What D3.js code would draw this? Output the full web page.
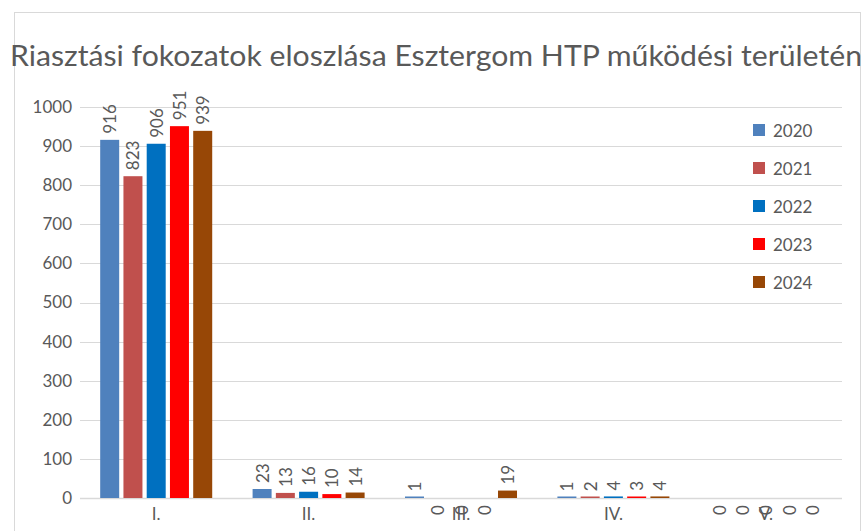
<!DOCTYPE html>
<html>
<head>
<meta charset="utf-8">
<script src="https://cdn.jsdelivr.net/npm/d3@7"></script>
<style>
  body { margin: 0; background: #fff; }
  text { font-family: Lato, "DejaVu Sans", sans-serif; fill: #595959; }
</style>
</head>
<body>
<svg id="chart"></svg>
<script>
// chart data
var categories = ["I.", "II.", "III.", "IV.", "V."];
var years = ["2020", "2021", "2022", "2023", "2024"];
var v2020 = [916, 23, 1, 1, 0];
var v2021 = [823, 13, 0, 2, 0];
var v2022 = [906, 16, 0, 4, 0];
var v2023 = [951, 10, 0, 3, 0];
var v2024 = [939, 14, 19, 4, 0];
var yTicks = [0, 100, 200, 300, 400, 500, 600, 700, 800, 900, 1000];
var colors = ["#4F81BD", "#C0504D", "#0070C0", "#FF0000", "#974706"];
var title = "Riasztási fokozatok eloszlása Esztergom HTP működési területén";

var series = [v2020, v2021, v2022, v2023, v2024];

var setup = {
  width: 864,
  height: 531,
  left: 80,
  right: 842,
  top: 107,
  bottom: 498
};

var svg = d3.select("#chart")
  .attr("width", setup.width)
  .attr("height", setup.height);

// outer frame
svg.append("rect")
  .attr("x", 14.5).attr("y", 12.5)
  .attr("width", 846).attr("height", 540)
  .attr("fill", "none")
  .attr("stroke", "#D9D9D9");

var x0 = d3.scaleBand()
  .domain(categories)
  .range([setup.left, setup.right])
  .paddingInner(0.265)
  .paddingOuter(0.1325);

var x1 = d3.scaleBand()
  .domain(years)
  .range([0, x0.bandwidth()])
  .paddingInner(0.183);

var y = d3.scaleLinear()
  .domain([0, 1000])
  .range([setup.bottom, setup.top]);

var color = d3.scaleOrdinal().domain(years).range(colors);

// gridlines
svg.append("g")
  .selectAll("line")
  .data(yTicks)
  .join("line")
  .attr("x1", setup.left).attr("x2", setup.right)
  .attr("y1", d => Math.round(y(d)) + 0.5)
  .attr("y2", d => Math.round(y(d)) + 0.5)
  .attr("stroke", "#D9D9D9")
  .attr("stroke-width", d => d === 0 ? 1.5 : 1);

// y axis labels
var yAxis = d3.axisLeft(y).tickValues(yTicks).tickFormat(d3.format("d")).tickSize(0).tickPadding(8);
var gy = svg.append("g")
  .attr("transform", "translate(" + [setup.left, 0] + ")")
  .call(yAxis);
gy.select(".domain").remove();
gy.selectAll("text")
  .style("font-size", "17px")
  .attr("fill", "#595959")
  .style("font-family", "Lato, sans-serif");

// x axis labels
var xAxis = d3.axisBottom(x0).tickSize(0).tickPadding(10);
var gx = svg.append("g")
  .attr("transform", "translate(" + [0, setup.bottom] + ")")
  .call(xAxis);
gx.select(".domain").remove();
gx.selectAll("text")
  .style("font-size", "17px")
  .attr("fill", "#595959")
  .style("font-family", "Lato, sans-serif");

// bars
var rows = [];
categories.forEach(function (c, i) {
  years.forEach(function (yr, j) {
    rows.push({cat: c, year: yr, value: series[j][i]});
  });
});

svg.append("g")
  .selectAll("rect")
  .data(rows.filter(d => d.value > 0))
  .join("rect")
  .attr("x", d => x0(d.cat) + x1(d.year))
  .attr("y", d => Math.min(y(d.value), setup.bottom - 1.5))
  .attr("width", x1.bandwidth())
  .attr("height", d => Math.max(setup.bottom - y(d.value), 1.5))
  .attr("fill", d => color(d.year));

// value labels
svg.append("g")
  .selectAll("text")
  .data(rows)
  .join("text")
  .attr("transform", function (d) {
    var cx = x0(d.cat) + x1(d.year) + x1.bandwidth() / 2;
    var cy = d.value === 0 ? setup.bottom + 12 : y(d.value) - 6;
    return "translate(" + cx + "," + cy + ") rotate(-90)";
  })
  .attr("text-anchor", d => d.value === 0 ? "middle" : "start")
  .attr("dominant-baseline", "central")
  .style("font-size", "17px")
  .text(d => d.value);

// legend
var legend = svg.append("g")
  .selectAll("g")
  .data(years)
  .join("g")
  .attr("transform", (d, i) => "translate(" + [753, 130 + i * 38] + ")");

legend.append("rect")
  .attr("x", 0).attr("y", -6)
  .attr("width", 12).attr("height", 12)
  .attr("fill", d => color(d));

legend.append("text")
  .attr("x", 20)
  .attr("dominant-baseline", "central")
  .style("font-size", "17px")
  .text(d => d);

// title
svg.append("text")
  .attr("x", 10)
  .attr("y", 66)
  .attr("textLength", 852)
  .attr("lengthAdjust", "spacingAndGlyphs")
  .style("font-size", "29px")
  .text(title);
</script>
</body>
</html>
